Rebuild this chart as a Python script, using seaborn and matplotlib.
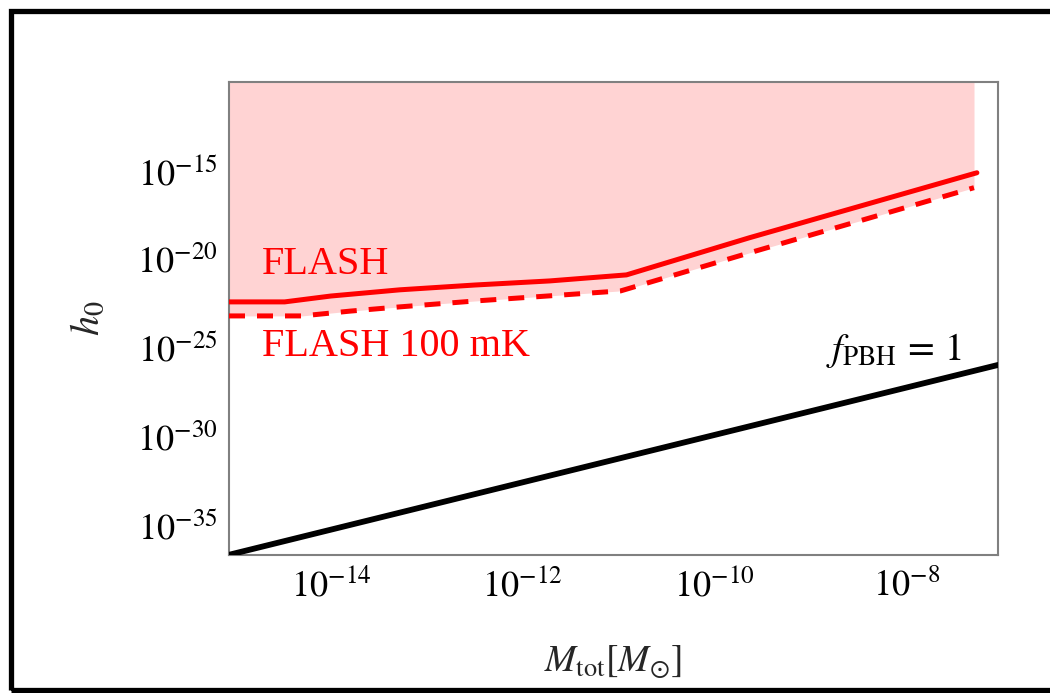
import numpy as np
import pandas as pd
import seaborn as sns
import matplotlib
matplotlib.use("Agg")
import matplotlib.pyplot as plt
from matplotlib.patches import Rectangle

# log10 of total mass [M_sun] and strain h0 along each curve
flash_logm = [-15.06, -14.48, -14.0, -13.28, -12.5, -11.72, -10.92, -9.64, -7.27]
flash_logh = [-22.38, -22.38, -22.05, -21.70, -21.43, -21.20, -20.86, -18.77, -15.11]

flash100_logm = [-15.06, -14.30, -13.8, -13.28, -12.5, -11.72, -10.98, -9.64, -7.30]
flash100_logh = [-23.17, -23.17, -22.90, -22.66, -22.33, -22.04, -21.76, -19.62, -15.95]

pbh_logm = [-15.06, -7.05]
pbh_logh = [-36.62, -25.93]

x_ticks = [-14, -12, -10, -8]
y_ticks = [-35, -30, -25, -20, -15]
x_limits = (-15.06, -7.05)
y_limits = (-36.63, -10.0)

sns.set_theme(style="white")
plt.rcParams["font.family"] = ["Liberation Serif", "DejaVu Serif"]
plt.rcParams["mathtext.fontset"] = "stix"

flash = pd.DataFrame({"M": np.power(10.0, flash_logm), "h": np.power(10.0, flash_logh)})
flash100 = pd.DataFrame({"M": np.power(10.0, flash100_logm), "h": np.power(10.0, flash100_logh)})
pbh = pd.DataFrame({"M": np.power(10.0, pbh_logm), "h": np.power(10.0, pbh_logh)})

fig = plt.figure(figsize=(10.5, 6.93), dpi=100)
ax = fig.add_axes([229 / 1050, 1 - 555 / 693, 769 / 1050, 473 / 693])
ax.set_xscale("log")
ax.set_yscale("log")

# excluded region above the sensitivity curves
ax.fill_between(flash100["M"], flash100["h"], 10 ** y_limits[1],
                color="#ffd3d3", linewidth=0, zorder=1)

sns.lineplot(data=flash, x="M", y="h", ax=ax, color="#ff0000", linewidth=3.6,
             sort=False, estimator=None, zorder=3)
sns.lineplot(data=flash100, x="M", y="h", ax=ax, color="#ff0000", linewidth=3.6,
             sort=False, estimator=None, zorder=3)
ax.lines[-1].set_linestyle((0, (3.2, 2.4)))
sns.lineplot(data=pbh, x="M", y="h", ax=ax, color="black", linewidth=4.2,
             sort=False, estimator=None, zorder=3)

ax.set_xlim(10 ** x_limits[0], 10 ** x_limits[1])
ax.set_ylim(10 ** y_limits[0], 10 ** y_limits[1])

ax.set_xticks([10.0 ** t for t in x_ticks])
ax.set_xticklabels([r"$10^{%d}$" % t for t in x_ticks])
ax.set_yticks([10.0 ** t for t in y_ticks])
ax.set_yticklabels([r"$10^{%d}$" % t for t in y_ticks])
ax.minorticks_off()
ax.tick_params(axis="both", which="major", direction="in", length=5, width=1.0,
               color="#808080", labelsize=26, labelcolor="black")
ax.tick_params(axis="x", pad=10)
ax.tick_params(axis="y", pad=8)

for s in ax.spines.values():
    s.set_visible(True)
    s.set_color("#808080")
    s.set_linewidth(1.5)

ax.set_xlabel(r"$M_{\rm tot}[M_{\odot}]$", fontsize=27)
ax.set_ylabel(r"$h_0$", fontsize=29)
ax.xaxis.set_label_coords(0.5, -0.185)
ax.yaxis.set_label_coords(-0.158, 0.5)

ax.text(10 ** -14.72, 10 ** -20.3, "FLASH", color="#ff0000", fontsize=29,
        ha="left", va="center", zorder=4)
ax.text(10 ** -14.72, 10 ** -24.9, "FLASH 100 mK", color="#ff0000", fontsize=29,
        ha="left", va="center", zorder=4)
ax.text(10 ** -7.43, 10 ** -25.1, r"$f_{\rm PBH}\, =\, 1$", color="black",
        fontsize=28, ha="right", va="center", zorder=4)

# outer frame around the figure
fig.patches.append(Rectangle((10.5 / 1050, 3.5 / 693), 1.05, 1 - 14 / 693,
                             transform=fig.transFigure, fill=False,
                             edgecolor="black", linewidth=3.8, zorder=10))

fig.savefig("out.png", dpi=100)
